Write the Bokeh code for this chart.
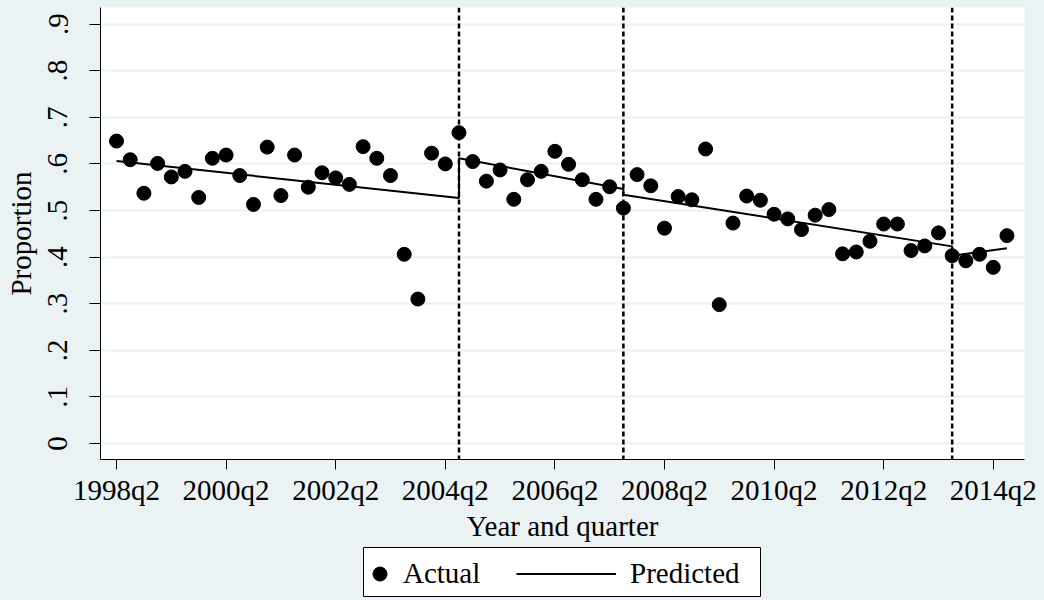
from bokeh.plotting import figure
from bokeh.layouts import column
from bokeh.models import FixedTicker, Span, Legend, LegendItem, BoxAnnotation, Range1d
from bokeh.embed import file_html
from bokeh.resources import INLINE

# ---------------- data ----------------
# quarter index: 0 = 1998q2
quarters = list(range(66))
actual = [0.649, 0.609, 0.537, 0.601, 0.572, 0.584, 0.528, 0.612, 0.619, 0.575,
          0.513, 0.636, 0.532, 0.619, 0.550, 0.581, 0.570, 0.556, 0.637, 0.612,
          0.575, 0.406, 0.310, 0.623, 0.600, 0.667, 0.605, 0.563, 0.587, 0.524,
          0.566, 0.584, 0.627, 0.599, 0.566, 0.524, 0.551, 0.505, 0.577, 0.553,
          0.462, 0.530, 0.523, 0.632, 0.298, 0.473, 0.531, 0.522, 0.492, 0.482,
          0.459, 0.490, 0.502, 0.407, 0.411, 0.434, 0.471, 0.471, 0.414, 0.424,
          0.452, 0.403, 0.392, 0.406, 0.378, 0.446]

# predicted (piecewise fit) vertices
pred_quarter = [0, 25, 25, 37, 37, 61, 61, 65]
pred_value = [0.606, 0.527, 0.612, 0.546, 0.534, 0.423, 0.403, 0.419]

# structural breaks (2004q3, 2007q3, 2013q3)
break_quarters = [25, 37, 61]

x_tick_quarters = [0, 8, 16, 24, 32, 40, 48, 56, 64]
x_tick_labels = ["1998q2", "2000q2", "2002q2", "2004q2", "2006q2",
                 "2008q2", "2010q2", "2012q2", "2014q2"]
y_ticks = [0, 0.1, 0.2, 0.3, 0.4, 0.5, 0.6, 0.7, 0.8, 0.9]
y_tick_labels = ["0", ".1", ".2", ".3", ".4", ".5", ".6", ".7", ".8", ".9"]

# ---------------- style ----------------
FONT = "Liberation Serif"
FS = "29px"
BG = "#EAF2F3"
LEFT, RIGHT = 100, 20

p = figure(width=1044, height=544,
           min_border_left=LEFT, min_border_right=RIGHT,
           min_border_top=7, min_border_bottom=85,
           x_range=Range1d(-1.168, 66.28), y_range=Range1d(-0.0343, 0.9356),
           output_backend="svg", toolbar_location=None)

p.border_fill_color = BG
p.background_fill_color = "white"
p.outline_line_color = None

p.xgrid.visible = False
p.ygrid.ticker = FixedTicker(ticks=y_ticks)
p.ygrid.grid_line_color = BG
p.ygrid.grid_line_width = 2

xa = p.xaxis[0]
xa.ticker = FixedTicker(ticks=x_tick_quarters)
xa.major_label_overrides = dict(zip(x_tick_quarters, x_tick_labels))
xa.axis_label = "Year and quarter"
ya = p.yaxis[0]
ya.ticker = FixedTicker(ticks=y_ticks)
ya.major_label_overrides = dict(zip(y_ticks, y_tick_labels))
ya.axis_label = "Proportion"
ya.major_label_orientation = "vertical"

for ax in (xa, ya):
    ax.axis_line_color = "black"
    ax.axis_line_width = 1
    ax.major_tick_line_color = "black"
    ax.major_tick_in = 0
    ax.minor_tick_line_color = None
    ax.major_label_text_font = FONT
    ax.major_label_text_font_size = FS
    ax.major_label_text_color = "black"
    ax.axis_label_text_font = FONT
    ax.axis_label_text_font_size = FS
    ax.axis_label_text_font_style = "normal"
    ax.axis_label_text_color = "black"
xa.major_tick_out = 10
ya.major_tick_out = 11
xa.major_label_standoff = 4
xa.axis_label_standoff = 1
ya.major_label_standoff = 22
ya.axis_label_standoff = 9

for q in break_quarters:
    p.add_layout(Span(location=q, dimension="height", line_color="black",
                      line_width=2.5, line_dash="5 3"))

r_pred = p.line(pred_quarter, pred_value, line_color="black", line_width=2)
r_act = p.scatter(quarters, actual, size=14, fill_color="black", line_color="black")

# ---------------- legend strip (frame aligned with the main plot) ----------------
lg = figure(width=1044, height=56,
            min_border_left=LEFT, min_border_right=RIGHT,
            min_border_top=0, min_border_bottom=0,
            x_range=Range1d(LEFT, 1044 - RIGHT), y_range=Range1d(56, 0),
            x_axis_location=None, y_axis_location=None,
            output_backend="svg", toolbar_location=None)
lg.border_fill_color = BG
lg.background_fill_color = BG
lg.outline_line_color = None
lg.xgrid.visible = False
lg.ygrid.visible = False

# legend key renderers (same series; they fall outside this strip's range)
key_act = lg.scatter(quarters, actual, size=14, fill_color="black", line_color="black")
key_pred = lg.line(pred_quarter, pred_value, line_color="black", line_width=2)

lg.add_layout(BoxAnnotation(left=363, right=760, top=3, bottom=52,
                            fill_color="white", fill_alpha=1.0,
                            line_color="black", line_width=1, line_alpha=1.0))

common = dict(padding=0, margin=0, border_line_alpha=0, background_fill_alpha=0,
              label_text_font=FONT, label_text_font_size=FS,
              label_text_color="black", glyph_height=35)
lg.add_layout(Legend(items=[LegendItem(label="Actual", renderers=[key_act])],
                     location=(362 - LEFT, 9), glyph_width=35, label_standoff=6, **common))
lg.add_layout(Legend(items=[LegendItem(label="Predicted", renderers=[key_pred])],
                     location=(516 - LEFT, 9), glyph_width=100, label_standoff=14, **common))

layout = column(p, lg, spacing=0, styles={"background-color": BG})
open("out.html", "w").write(file_html(layout, INLINE))
